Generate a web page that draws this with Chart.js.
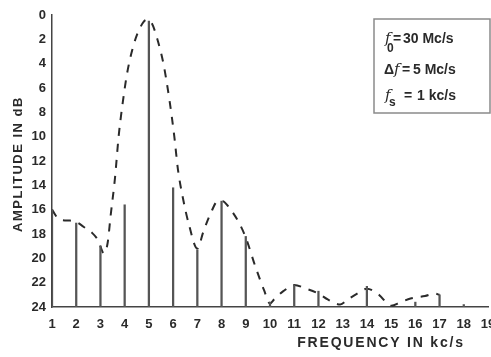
<!DOCTYPE html>
<html>
<head>
<meta charset="utf-8">
<script src="https://cdn.jsdelivr.net/npm/chart.js@4"></script>
<style>
  html, body { margin: 0; padding: 0; background: #fff; }
</style>
</head>
<body>
<canvas id="chart" width="491" height="357"></canvas>
<script>
// spectral lines: frequency (kc/s) and amplitude (dB below carrier)
const stemFreq = [1, 2, 3, 4, 5, 6, 7, 8, 9, 10, 11, 12, 13, 14, 15, 16, 17, 18];
const stemDb = [16, 17.1, 19, 15.6, 0.5, 14.2, 19.3, 15.3, 18.2, 23.6, 22.2, 22.7, 24, 22.3, 24, 23.6, 23, 23.8];

// dashed envelope
const envFreq = [1, 1.3, 1.75, 2, 2.3, 2.65, 2.9, 3.15, 3.3, 3.42, 3.6, 3.75, 3.9, 4.1, 4.35, 4.6, 4.9, 5.1, 5.35, 5.6, 5.85, 6.05, 6.2, 6.4, 6.65, 7, 7.25, 7.55, 7.85, 8.05, 8.3, 8.7, 9, 9.4, 9.75, 10, 10.2, 10.55, 11, 11.5, 12, 12.4, 12.9, 13.2, 13.6, 14, 14.5, 15, 15.4, 15.8, 16.4, 16.8, 17];
const envDb = [16, 16.8, 16.9, 17, 17.4, 17.9, 18.5, 19.6, 18.7, 16.5, 13.4, 10, 7.5, 4.8, 2.6, 1.2, 0.4, 0.6, 2, 4, 7, 10, 12.7, 15, 17.2, 19.2, 17.8, 16.3, 15.3, 15.3, 15.8, 17, 18.3, 20.7, 22.6, 23.7, 23.3, 22.7, 22.2, 22.5, 22.9, 23.4, 23.8, 23.4, 22.9, 22.5, 23, 23.9, 23.6, 23.3, 23.1, 22.9, 23];

const yTicks = [0, 2, 4, 6, 8, 10, 12, 14, 16, 18, 20, 22, 24];
const xTicks = [1, 2, 3, 4, 5, 6, 7, 8, 9, 10, 11, 12, 13, 14, 15, 16, 17, 18, 19];

const ink = "#2a2a2a";
const labelFont = "'Liberation Sans', Arial, sans-serif";

// axis titles and the parameter box, drawn as canvas text
const textPlugin = {
  id: "textPlugin",
  afterDraw(chart) {
    const ctx = chart.ctx;
    ctx.save();
    ctx.fillStyle = ink;

    // y title
    ctx.font = "bold 13px " + labelFont;
    ctx.letterSpacing = "1.5px";
    ctx.translate(18, 164);
    ctx.rotate(-Math.PI / 2);
    ctx.textAlign = "center";
    ctx.textBaseline = "middle";
    ctx.fillText("AMPLITUDE IN dB", 0, 0);
    ctx.setTransform(1, 0, 0, 1, 0, 0);

    // x title
    ctx.font = "bold 14px " + labelFont;
    ctx.letterSpacing = "1.8px";
    ctx.fillText("FREQUENCY IN kc/s", 381, 343);

    // parameter box
    ctx.letterSpacing = "0px";
    ctx.strokeStyle = "#8a8a8a";
    ctx.lineWidth = 1.5;
    ctx.strokeRect(374, 19, 116, 94);

    ctx.textAlign = "left";
    ctx.textBaseline = "alphabetic";
    const fItalic = "italic 15px 'DejaVu Serif', serif";
    const sub = "bold 12px " + labelFont;
    const body = "bold 14px " + labelFont;

    ctx.font = fItalic;
    ctx.fillText("f", 385, 43);
    ctx.font = sub;
    ctx.fillText("0", 387, 52);
    ctx.font = body;
    ctx.fillText("=", 393, 43);
    ctx.fillText("30 Mc/s", 403, 43);

    ctx.font = "bold 14px " + labelFont;
    ctx.fillText("\u0394", 384, 74);
    ctx.font = fItalic;
    ctx.fillText("f", 394, 74);
    ctx.font = body;
    ctx.fillText("=", 402, 74);
    ctx.fillText("5 Mc/s", 413, 74);

    ctx.font = fItalic;
    ctx.fillText("f", 385, 100);
    ctx.font = sub;
    ctx.fillText("s", 389, 106);
    ctx.font = body;
    ctx.fillText("=", 404, 100);
    ctx.fillText("1 kc/s", 417, 100);

    ctx.restore();
  },
};

const ctx = document.getElementById("chart").getContext("2d");

new Chart(ctx, {
  type: "bar",
  data: {
    datasets: [
      {
        label: "lines",
        data: stemFreq.map((f, i) => ({ x: f, y: [24, stemDb[i]] })),
        backgroundColor: "#555",
        borderWidth: 0,
        barThickness: 1.6,
        grouped: false,
      },
      {
        type: "line",
        label: "envelope",
        data: envFreq.map((f, i) => ({ x: f, y: envDb[i] })),
        borderColor: ink,
        borderWidth: 2,
        borderDash: [8, 8],
        pointRadius: 0,
        cubicInterpolationMode: "monotone",
        fill: false,
      },
    ],
  },
  options: {
    responsive: false,
    animation: false,
    layout: { padding: { top: 15, right: 3, left: 0, bottom: 0 } },
    plugins: {
      legend: { display: false },
      tooltip: { enabled: false },
    },
    scales: {
      x: {
        type: "linear",
        min: 1,
        max: 19,
        offset: false,
        afterBuildTicks: (axis) => {
          axis.ticks = xTicks.map((v) => ({ value: v }));
        },
        afterFit: (axis) => {
          axis.height = 50;
          axis.paddingLeft = 0;
          axis.paddingRight = 0;
        },
        grid: { display: false, drawTicks: false, offset: false },
        border: { color: "#444", width: 1.5 },
        ticks: {
          padding: 10,
          maxRotation: 0,
          color: ink,
          font: { family: labelFont, size: 13, weight: "bold" },
        },
      },
      y: {
        min: 0,
        max: 24,
        reverse: true,
        afterBuildTicks: (axis) => {
          axis.ticks = yTicks.map((v) => ({ value: v }));
        },
        afterFit: (axis) => {
          axis.width = 52;
          axis.paddingTop = 0;
          axis.paddingBottom = 0;
        },
        grid: { display: false, drawTicks: false },
        border: { color: "#444", width: 1.5 },
        ticks: {
          padding: 6,
          color: ink,
          font: { family: labelFont, size: 13, weight: "bold" },
        },
      },
    },
  },
  plugins: [textPlugin],
});
</script>
</body>
</html>
